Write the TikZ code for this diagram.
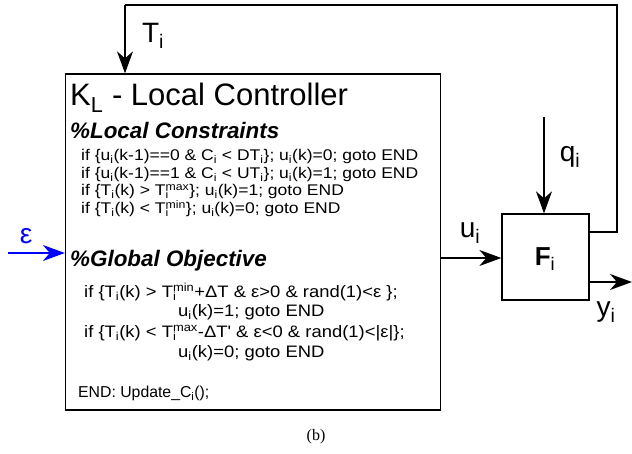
\documentclass[tikz,border=0pt]{standalone}
\usepackage{fontspec}
\setmainfont{Liberation Sans}
\newfontfamily\widefont[FakeStretch=1.13]{Liberation Sans}
\newfontfamily\gwidefont[FakeStretch=1.11]{Liberation Sans}
\newfontfamily\capfont{Liberation Serif}
\usetikzlibrary{arrows.meta}
\newcommand{\sbsp}[2]{\rlap{\textsubscript{#1}}\textsuperscript{#2}}
\begin{document}
\begin{tikzpicture}[x=1pt,y=-1pt,
  line/.style={line width=1.3pt},
  arr/.style={line width=1.3pt,-{Stealth[length=22pt,width=16pt,inset=7pt]}},
  code/.style={anchor=base west,inner sep=0pt,font=\widefont\fontsize{15.5}{17}\selectfont},
  gcode/.style={anchor=base west,inner sep=0pt,font=\gwidefont\fontsize{16.6}{18}\selectfont},
  ecode/.style={anchor=base west,inner sep=0pt,font=\fontsize{15.8}{18}\selectfont},
  head/.style={anchor=base west,inner sep=0pt,font=\fontsize{22.4}{25}\selectfont\bfseries\itshape},
  lab/.style={inner sep=0pt,font=\fontsize{28}{30}\selectfont}]
\useasboundingbox (0,0) rectangle (632,454);
% boxes
\node[draw,line,minimum width=375pt,minimum height=336pt,inner sep=0pt] (K) at (253,242) {};
\node[draw,line,minimum width=87pt,minimum height=86pt,inner sep=0pt] (F) at (545.5,257) {};
\node[inner sep=0pt,font=\fontsize{26}{28}\selectfont\bfseries] (Fl) at (545,259) {F\textsubscript{\normalfont i}};
% text in K
\node[anchor=base west,inner sep=0pt,font=\fontsize{31}{33}\selectfont] (title) at (70,106) {K\textsubscript{L} - Local Controller};
\node[head] (lc) at (70,139) {\%Local Constraints};
\node[code] (l1) at (81,161) {if \{u\textsubscript{i}(k-1)==0 \& C\textsubscript{i} < DT\textsubscript{i}\}; u\textsubscript{i}(k)=0; goto END};
\node[code] (l2) at (81,178.5) {if \{u\textsubscript{i}(k-1)==1 \& C\textsubscript{i} < UT\textsubscript{i}\}; u\textsubscript{i}(k)=1; goto END};
\node[code] (l3) at (81,196) {if \{T\textsubscript{i}(k) > T\sbsp{i}{max}\}; u\textsubscript{i}(k)=1; goto END};
\node[code] (l4) at (81,213.5) {if \{T\textsubscript{i}(k) < T\sbsp{i}{min}\}; u\textsubscript{i}(k)=0; goto END};
\node[head] (go) at (70,267) {\%Global Objective};
\node[gcode] (g1) at (84,297.5) {if \{T\textsubscript{i}(k) > T\sbsp{i}{min}+ΔT \& ε>0 \& rand(1)<ε \};};
\node[gcode] (g2) at (178,316.5) {u\textsubscript{i}(k)=1; goto END};
\node[gcode] (g3) at (84,337.5) {if \{T\textsubscript{i}(k) < T\sbsp{i}{max}-ΔT' \& ε<0 \& rand(1)<|ε|\};};
\node[gcode] (g4) at (178,357.5) {u\textsubscript{i}(k)=0; goto END};
\node[ecode] (g5) at (78,397.5) {END: Update\_C\textsubscript{i}();};
% labels
\node[lab] (Tl) at (153,36) {T\textsubscript{i}};
\node[lab] (ql) at (570,157) {q\textsubscript{i}};
\node[lab] (ul) at (470,233) {u\textsubscript{i}};
\node[lab] (yl) at (606,312) {y\textsubscript{i}};
\node[lab,text=blue] (el) at (26,236) {ε};
\node[inner sep=0pt,font=\capfont\fontsize{16}{18}\selectfont] (cap) at (316,437) {(b)};
% connectors
\coordinate (fbo) at (589,232);
\coordinate (c1) at (617,232);
\coordinate (c2) at (617,5);
\coordinate (c3) at (125,5);
\coordinate (qs) at (544,117);
\coordinate (ys) at (632,282);
\coordinate (es) at (8,253);
\draw[line] (fbo) -- (c1) -- (c2) -- (c3);
\draw[arr] (c3) -- (c3 |- K.north);
\draw[arr] (qs) -- (qs |- F.north);
\draw[arr] (K.east |- 0,258) -- (F.west |- 0,258);
\draw[arr] (F.east |- 0,282) -- (ys);
\draw[arr,blue] (es) -- (es -| K.west);
\end{tikzpicture}
\end{document}
